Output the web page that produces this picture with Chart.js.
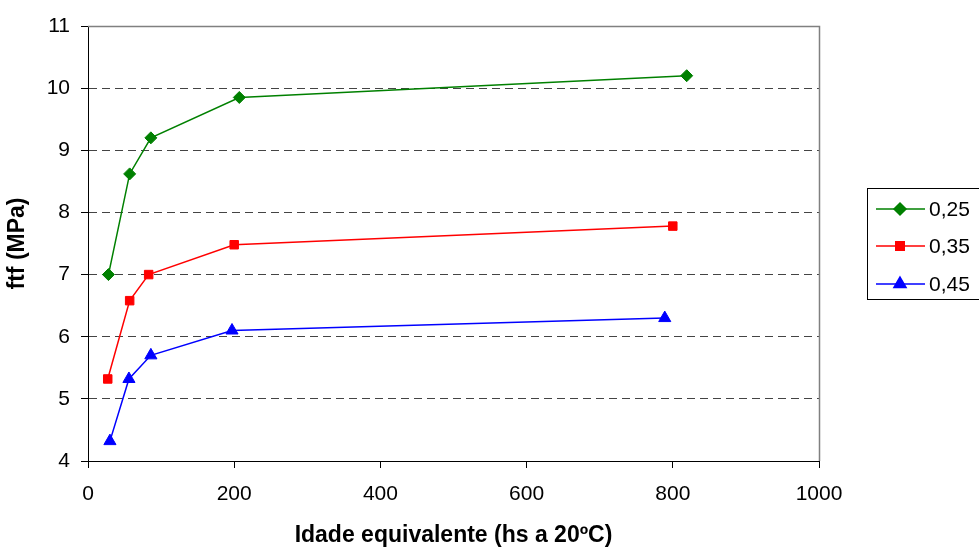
<!DOCTYPE html>
<html>
<head>
<meta charset="utf-8">
<script src="https://cdn.jsdelivr.net/npm/chart.js@4/dist/chart.umd.min.js"></script>
<style>
html,body{margin:0;padding:0;background:#fff;}
#wrap{width:979px;height:547px;position:relative;}
</style>
</head>
<body>
<div id="wrap"><canvas id="c" width="979" height="547"></canvas></div>
<script>
const seriesNames = ["0,25", "0,35", "0,45"];
const ages025 = [28, 57, 86, 207, 819];
const ftf025 = [7.0, 8.62, 9.2, 9.85, 10.2];
const ages035 = [27, 57, 83, 200, 800];
const ftf035 = [5.32, 6.58, 7.0, 7.48, 7.78];
const ages045 = [30, 56, 86, 197, 789];
const ftf045 = [4.32, 5.32, 5.7, 6.1, 6.3];
const xTicks = [0, 200, 400, 600, 800, 1000];
const yTicks = [4, 5, 6, 7, 8, 9, 10, 11];
const xTitle = "Idade equivalente (hs a 20ºC)";
const yTitle = "ftf (MPa)";

const FONT = "'Liberation Sans', Arial, sans-serif";
const pts = (xs, ys) => xs.map((x, i) => ({x: x, y: ys[i]}));

const styles = [
  {color: "#008000", pointStyle: "rectRot", r: 6},
  {color: "#ff0000", pointStyle: "rect", r: 6},
  {color: "#0000ff", pointStyle: "triangle", r: 7}
];
const dataArr = [pts(ages025, ftf025), pts(ages035, ftf035), pts(ages045, ftf045)];

const datasets = dataArr.map((d, i) => ({
  label: seriesNames[i],
  data: d,
  showLine: true,
  borderColor: styles[i].color,
  backgroundColor: styles[i].color,
  borderWidth: 1.5,
  pointStyle: styles[i].pointStyle,
  pointRadius: styles[i].r,
  pointHoverRadius: styles[i].r,
  pointBorderWidth: 1
}));

const framePlugin = {
  id: "frame",
  beforeDatasetsDraw(chart) {
    const {ctx, chartArea: a} = chart;
    ctx.save();
    ctx.strokeStyle = "#808080";
    ctx.lineWidth = 1.5;
    ctx.beginPath();
    ctx.moveTo(a.left, a.top + 0.5);
    ctx.lineTo(a.right + 0.5, a.top + 0.5);
    ctx.lineTo(a.right + 0.5, a.bottom);
    ctx.stroke();
    ctx.restore();
  },
  afterDraw(chart) {
    const ctx = chart.ctx;
    ctx.save();
    const bx = 867.5, by = 188.5, bw = 120, bh = 111;
    ctx.strokeStyle = "#000";
    ctx.lineWidth = 1;
    ctx.strokeRect(bx, by, bw, bh);
    const rows = [209, 246, 284];
    ctx.font = "21px " + FONT;
    ctx.textBaseline = "middle";
    ctx.textAlign = "left";
    chart.data.datasets.forEach((ds, i) => {
      const y = rows[i];
      ctx.strokeStyle = ds.borderColor;
      ctx.lineWidth = 1.5;
      ctx.beginPath();
      ctx.moveTo(876, y);
      ctx.lineTo(925, y);
      ctx.stroke();
      ctx.fillStyle = ds.backgroundColor;
      Chart.helpers.drawPoint(ctx, {pointStyle: ds.pointStyle, radius: ds.pointRadius, borderWidth: 1, rotation: 0}, 900, y);
      ctx.fillStyle = "#000";
      ctx.fillText(ds.label, 929, y + 1);
    });
    ctx.restore();
  }
};

new Chart(document.getElementById("c"), {
  type: "scatter",
  data: {datasets: datasets},
  plugins: [framePlugin],
  options: {
    responsive: false,
    animation: false,
    events: [],
    layout: {padding: {top: 26, right: 160, left: 0, bottom: 0}},
    plugins: {legend: {display: false}, tooltip: {enabled: false}},
    scales: {
      x: {
        type: "linear",
        min: 0, max: 1000,
        afterBuildTicks: (s) => { s.ticks = xTicks.map(v => ({value: v})); },
        afterFit: (s) => { s.height = 86; },
        border: {display: true, color: "#000", width: 1},
        grid: {drawOnChartArea: false, drawTicks: true, tickLength: 7, tickColor: "#000"},
        ticks: {color: "#000", font: {family: FONT, size: 21}, padding: 14, maxRotation: 0, callback: (v) => String(v)},
        title: {display: true, text: xTitle, color: "#000", font: {family: FONT, size: 23, weight: "bold"}, padding: {top: 0, bottom: -2}}
      },
      y: {
        type: "linear",
        min: 4, max: 11,
        afterBuildTicks: (s) => { s.ticks = yTicks.map(v => ({value: v})); },
        afterFit: (s) => { s.width = 88; },
        border: {display: true, color: "#000", width: 1, dash: [8, 5]},
        grid: {
          drawOnChartArea: true, drawTicks: true, tickLength: 7,
          color: (c) => (c.tick && (c.tick.value === 4 || c.tick.value === 11)) ? "rgba(0,0,0,0)" : "#444",
          lineWidth: 1,
          tickColor: "#000",
          tickBorderDash: []
        },
        ticks: {color: "#000", font: {family: FONT, size: 21}, padding: 11, callback: (v) => String(v)},
        title: {display: true, text: yTitle, color: "#000", font: {family: FONT, size: 23, weight: "bold"}, padding: {top: 4, bottom: 0}}
      }
    }
  }
});
</script>
</body>
</html>
